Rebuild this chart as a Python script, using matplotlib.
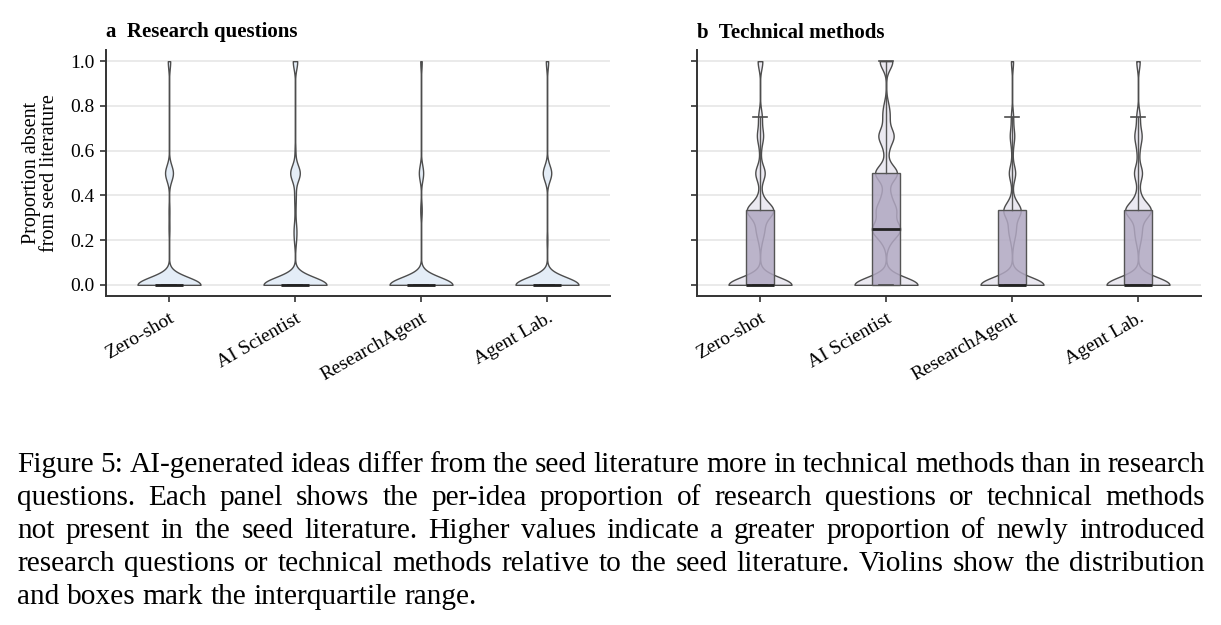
import numpy as np
import matplotlib
matplotlib.use("Agg")
import matplotlib.pyplot as plt

plt.rcParams["font.family"] = ["Liberation Serif", "DejaVu Serif"]

methods = ["Zero-shot", "AI Scientist", "ResearchAgent", "Agent Lab."]
# proportion levels an idea can take (fractions with small denominators)
levels = [0.0, 0.2, 0.25, 1 / 3, 0.4, 0.5, 0.6, 2 / 3, 0.75, 0.8, 1.0]

# number of ideas at each level, read off the violin shapes and box quartiles
# panel a: research questions
rq_zero_shot = [80, 0, 1, 1, 0, 10, 0, 0, 0, 0, 3]
rq_ai_scientist = [86, 2, 3, 1, 2, 13, 1, 0, 0, 0, 6]
rq_research_agent = [88, 0, 0, 2, 0, 6, 0, 0, 0, 0, 2]
rq_agent_lab = [82, 1, 0, 0, 0, 11, 0, 0, 0, 0, 3]
# panel b: technical methods
tm_zero_shot = [54, 2, 6, 22, 2, 8, 1, 5, 3, 0, 4]
tm_ai_scientist = [35, 3, 14, 10, 4, 12, 2, 8, 3, 2, 7]
tm_research_agent = [60, 2, 6, 16, 1, 6, 1, 4, 2, 0, 2]
tm_agent_lab = [56, 3, 5, 22, 3, 7, 2, 6, 3, 0, 3]

caption_lines = [
    "Figure 5: AI-generated ideas differ from the seed literature more in technical methods than in research",
    "questions.  Each panel shows the per-idea proportion of research questions or technical methods",
    "not present in the seed literature. Higher values indicate a greater proportion of newly introduced",
    "research questions or technical methods relative to the seed literature. Violins show the distribution",
    "and boxes mark the interquartile range.",
]

W, H = 1221, 625
BW = 0.035  # kde bandwidth in data units


def expand(counts):
    return np.repeat(levels, counts)


def bw(kde):
    return BW / np.std(kde.dataset, ddof=1)


def panel(ax, data, violin_color, title):
    ax.set_axisbelow(True)
    ax.grid(axis="y", color="#e6e6e6", lw=1.2)
    parts = ax.violinplot(data, positions=range(len(methods)), widths=0.5,
                          showextrema=False, bw_method=bw, points=500)
    for b in parts["bodies"]:
        b.set_facecolor(violin_color)
        b.set_edgecolor("#4d4d4d")
        b.set_linewidth(1.0)
        b.set_alpha(1)
        b.set_zorder(2)
    ax.boxplot(data, positions=range(len(methods)), widths=0.22, whis=1.5,
               showfliers=False, patch_artist=True, manage_ticks=False,
               boxprops=dict(facecolor=(0.69, 0.655, 0.757, 0.85), edgecolor="#555555", linewidth=1.0),
               medianprops=dict(color="#222222", linewidth=2.0),
               whiskerprops=dict(color="#555555", linewidth=1.0),
               capprops=dict(color="#4d4d4d", linewidth=1.2),
               zorder=3)
    ax.set_xlim(-0.5, len(methods) - 0.5)
    ax.set_ylim(-0.05, 1.05)
    ax.set_yticks([0, 0.2, 0.4, 0.6, 0.8, 1.0])
    ax.set_xticks(range(len(methods)))
    ax.set_xticklabels(methods, rotation=30, ha="right", rotation_mode="anchor")
    for s in ["top", "right"]:
        ax.spines[s].set_visible(False)
    for s in ["left", "bottom"]:
        ax.spines[s].set_color("#333333")
        ax.spines[s].set_linewidth(1.4)
    ax.tick_params(labelsize=14, length=4, width=1.2, color="#333333", pad=4)
    ax.tick_params(axis="x", pad=6)
    ax.set_title(title, loc="left", fontsize=15, fontweight="bold", pad=9)


fig = plt.figure(figsize=(W / 100, H / 100), dpi=100)
ax1 = fig.add_axes([106 / W, 1 - 296 / H, 504 / W, 246 / H])
ax2 = fig.add_axes([697 / W, 1 - 296 / H, 504 / W, 246 / H], sharey=ax1)

rq = [expand(c) for c in [rq_zero_shot, rq_ai_scientist, rq_research_agent, rq_agent_lab]]
tm = [expand(c) for c in [tm_zero_shot, tm_ai_scientist, tm_research_agent, tm_agent_lab]]

panel(ax1, rq, "#e4edf7", "a  Research questions")
panel(ax2, tm, "#ebe9f1", "b  Technical methods")
ax2.tick_params(labelleft=False)
ax1.set_ylabel("Proportion absent\nfrom seed literature", fontsize=14.5, linespacing=0.95, labelpad=8)

# justified caption under the figure
fig.canvas.draw()
renderer = fig.canvas.get_renderer()
cap_fs = 21.2
x_left, x_right = 17, 1205
baselines = [472, 505, 538, 571, 604]
for i, line in enumerate(caption_lines):
    words = line.split()
    texts = [fig.text(0, 0, w, fontsize=cap_fs, va="baseline", ha="left") for w in words]
    widths = [t.get_window_extent(renderer).width for t in texts]
    if i < len(caption_lines) - 1:
        gap = (x_right - x_left - sum(widths)) / (len(words) - 1)
    else:
        gap = 0.25 * cap_fs * 100 / 72
    x = x_left
    for t, w in zip(texts, widths):
        t.set_position((x / W, 1 - baselines[i] / H))
        x += w + gap

fig.savefig("out.png", dpi=100)
